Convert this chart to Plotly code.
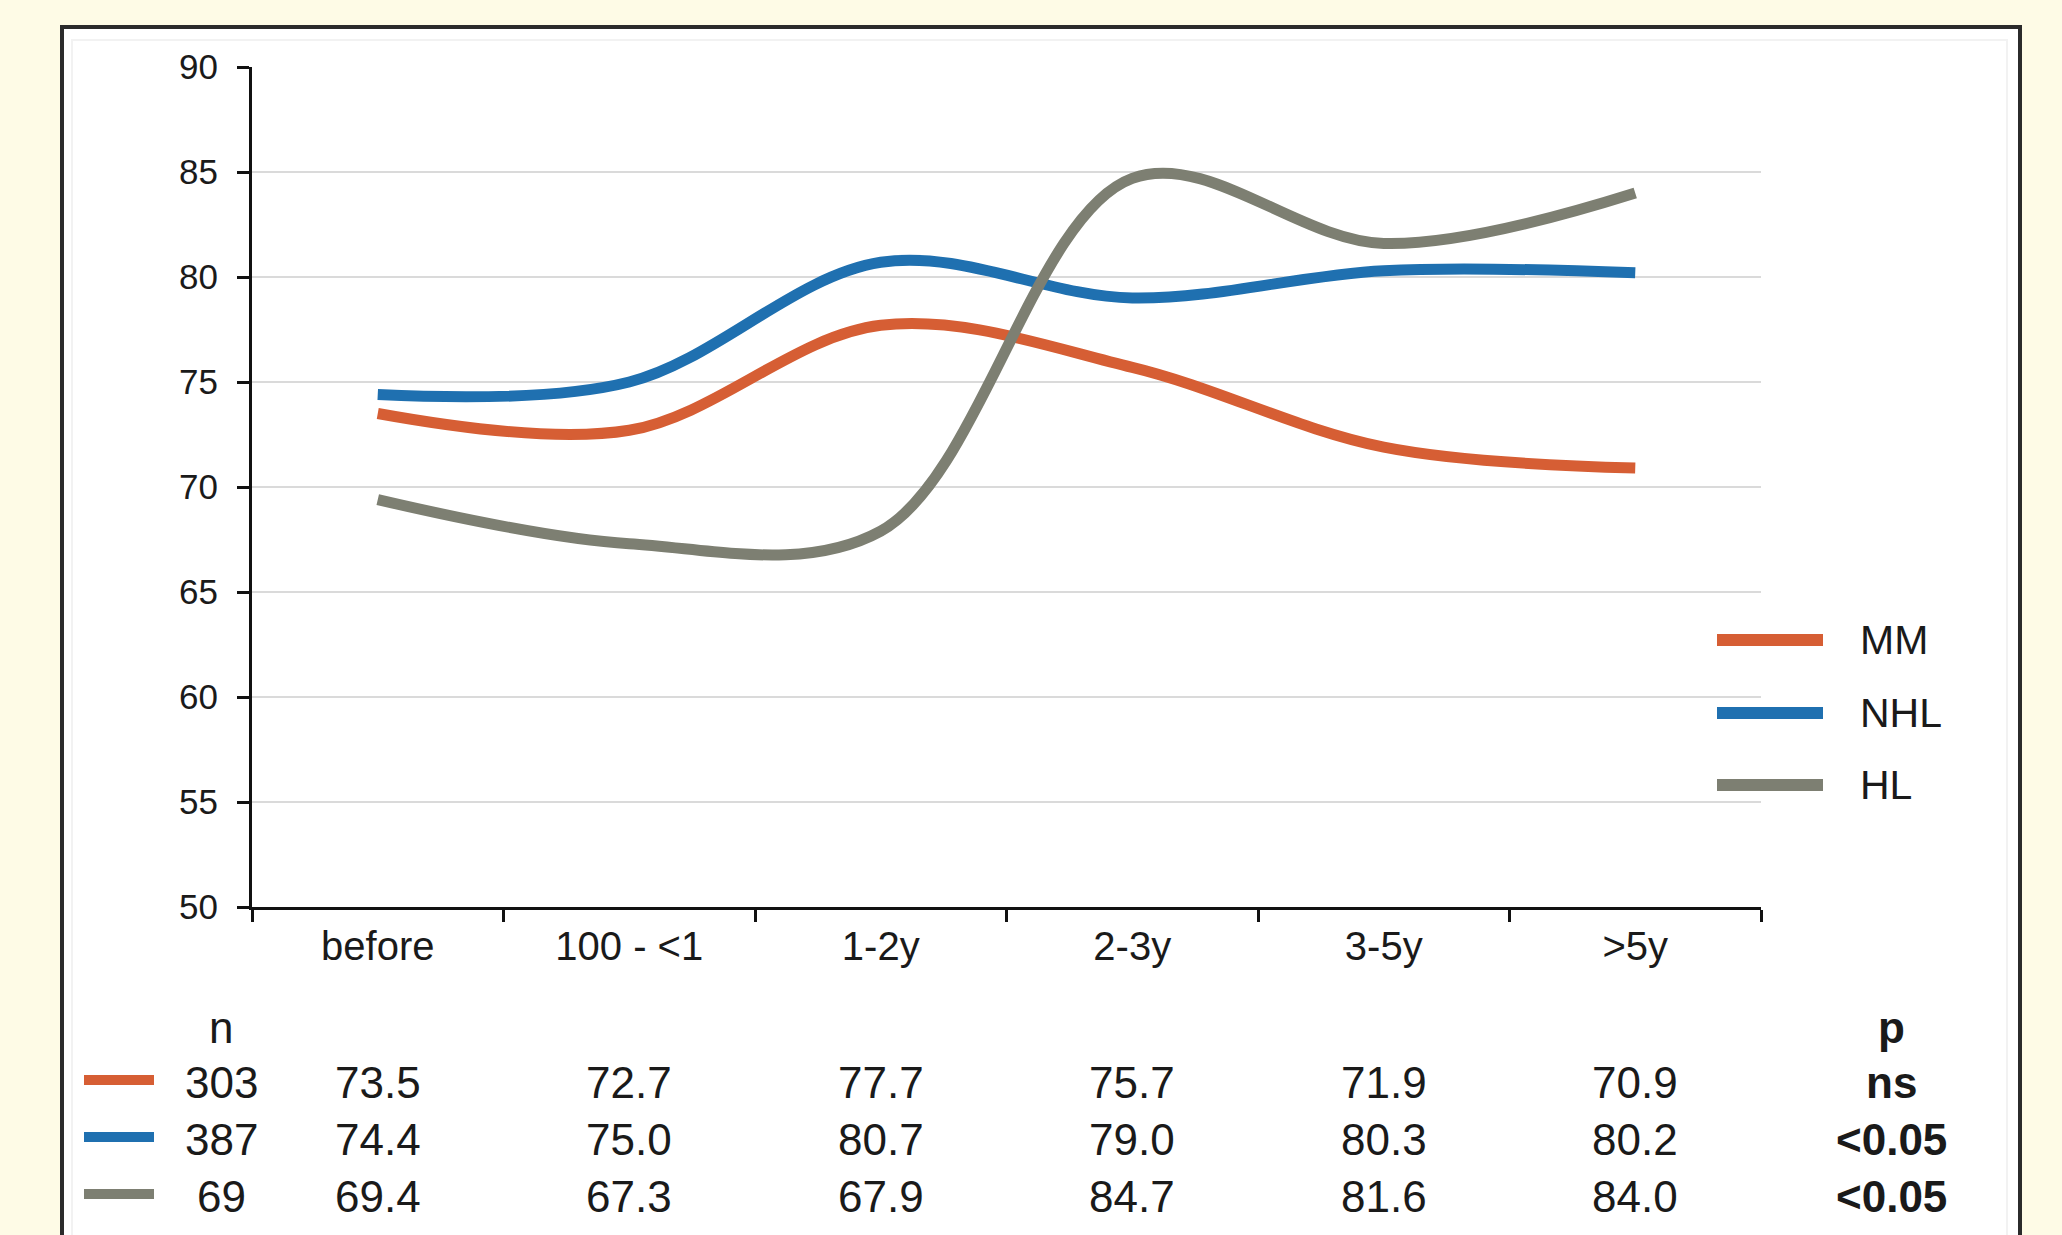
import plotly.graph_objects as go

# Time points after transplantation
categories = ["before", "100 - <1", "1-2y", "2-3y", "3-5y", ">5y"]

# Mean score per group at each time point
mm_values = [73.5, 72.7, 77.7, 75.7, 71.9, 70.9]
nhl_values = [74.4, 75.0, 80.7, 79.0, 80.3, 80.2]
hl_values = [69.4, 67.3, 67.9, 84.7, 81.6, 84.0]

series_names = ["MM", "NHL", "HL"]
n_counts = [303, 387, 69]
p_values = ["ns", "<0.05", "<0.05"]

y_ticks = [50, 55, 60, 65, 70, 75, 80, 85, 90]

colors = ["#D65E34", "#1F70B0", "#7D7F72"]
series_values = [mm_values, nhl_values, hl_values]

FONT = "Liberation Sans, Arial, Helvetica, sans-serif"
W, H = 2062, 1235
L, R, T, B = 252, 1761, 67, 907


def px(x):
    return (x - L) / (R - L)


def py(y):
    return (B - y) / (B - T)


fig = go.Figure()

for name, vals, col in zip(series_names, series_values, colors):
    fig.add_trace(go.Scatter(
        x=categories, y=vals, name=name, mode="lines",
        line=dict(color=col, width=11, shape="spline", smoothing=1.0),
        showlegend=False, hoverinfo="x+y+name",
    ))

shapes = [
    # white framed panel
    dict(type="rect", xref="paper", yref="paper",
         x0=px(62), x1=px(2020), y0=py(1260), y1=py(27),
         fillcolor="white", line=dict(color="#2b2b2b", width=4), layer="below"),
    # faint inner chart-area border
    dict(type="rect", xref="paper", yref="paper",
         x0=px(72), x1=px(2007), y0=py(1260), y1=py(40),
         fillcolor="rgba(0,0,0,0)", line=dict(color="#F2F2F2", width=2), layer="below"),
]

annotations = []

# legend on the right
legend_y = [640, 713, 785]
for name, col, ly in zip(series_names, colors, legend_y):
    shapes.append(dict(type="line", xref="paper", yref="paper",
                       x0=px(1717), x1=px(1823), y0=py(ly), y1=py(ly),
                       line=dict(color=col, width=12)))
    annotations.append(dict(xref="paper", yref="paper", x=px(1858), y=py(ly),
                            text=name, showarrow=False, xanchor="left", yanchor="middle",
                            font=dict(family=FONT, size=41, color="#1a1a1a")))

# table below the axis
header_y = 1027
row_y = [1082, 1139, 1196]
annotations.append(dict(xref="paper", yref="paper", x=px(221), y=py(header_y),
                        text="n", showarrow=False, xanchor="center", yanchor="middle",
                        font=dict(family=FONT, size=44, color="#1a1a1a")))
annotations.append(dict(xref="paper", yref="paper", x=px(1891), y=py(header_y),
                        text="<b>p</b>", showarrow=False, xanchor="center", yanchor="middle",
                        font=dict(family=FONT, size=44, color="#1a1a1a")))

for i, (vals, col, ry) in enumerate(zip(series_values, colors, row_y)):
    shapes.append(dict(type="line", xref="paper", yref="paper",
                       x0=px(84), x1=px(154), y0=py(ry - 2), y1=py(ry - 2),
                       line=dict(color=col, width=10)))
    annotations.append(dict(xref="paper", yref="paper", x=px(221), y=py(ry),
                            text=str(n_counts[i]), showarrow=False,
                            xanchor="center", yanchor="middle",
                            font=dict(family=FONT, size=44, color="#1a1a1a")))
    for cat, v in zip(categories, vals):
        annotations.append(dict(xref="x", yref="paper", x=cat, y=py(ry),
                                text=f"{v:.1f}", showarrow=False,
                                xanchor="center", yanchor="middle",
                                font=dict(family=FONT, size=44, color="#1a1a1a")))
    annotations.append(dict(xref="paper", yref="paper", x=px(1891), y=py(ry),
                            text=f"<b>{p_values[i]}</b>", showarrow=False,
                            xanchor="center", yanchor="middle",
                            font=dict(family=FONT, size=44, color="#1a1a1a")))

fig.update_layout(
    width=W, height=H,
    margin=dict(l=L, r=W - R, t=T, b=H - B, pad=0),
    paper_bgcolor="#FEFBE6",
    plot_bgcolor="white",
    shapes=shapes,
    annotations=annotations,
    showlegend=False,
    font=dict(family=FONT, color="#1a1a1a"),
)

fig.update_xaxes(
    type="category", categoryorder="array", categoryarray=categories,
    range=[-0.5, 5.5], tickson="boundaries",
    ticks="outside", ticklen=12, tickwidth=3, tickcolor="#111",
    showline=True, linewidth=3, linecolor="#111",
    showgrid=False, zeroline=False,
    tickfont=dict(family=FONT, size=40, color="#1a1a1a"),
    ticklabelstandoff=2,
)

fig.update_yaxes(
    range=[50, 90], tickvals=y_ticks,
    ticks="outside", ticklen=12, tickwidth=3, tickcolor="#111",
    showline=True, linewidth=3, linecolor="#111",
    showgrid=True, gridcolor="#DADADA", gridwidth=2, zeroline=False,
    tickfont=dict(family=FONT, size=35, color="#1a1a1a"),
    ticklabelstandoff=12,
)

fig.write_html("out.html")
